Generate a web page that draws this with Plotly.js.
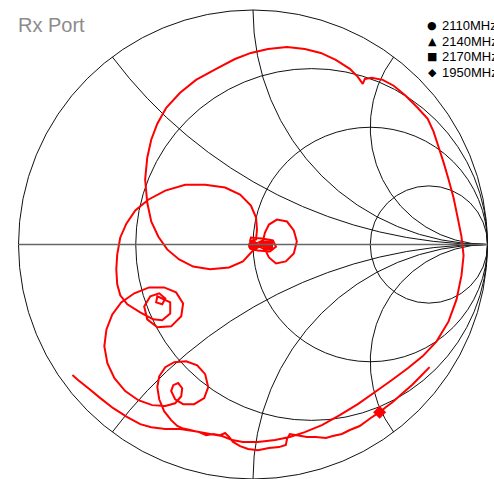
<!DOCTYPE html>
<html>
<head>
<meta charset="utf-8">
<script src="https://cdn.plot.ly/plotly-3.0.1.min.js"></script>
<style>html,body{margin:0;padding:0;background:#fff}#chart{width:494px;height:479px}</style>
</head>
<body>
<div id="chart"></div>
<script>
const gammaRe = [0.753,0.715,0.677,0.634,0.596,0.566,0.540,0.502,0.455,0.413,0.379,0.340,0.311,0.268,0.230,0.187,0.157,0.145,0.140,0.111,0.068,0.021,-0.021,-0.055,-0.085,-0.102,-0.119,-0.140,-0.170,-0.200,-0.230,-0.268,-0.302,-0.323,
-0.349,-0.379,-0.400,-0.408,-0.400,-0.374,-0.336,-0.285,-0.238,-0.204,-0.191,-0.208,-0.251,-0.298,-0.332,-0.349,-0.340,-0.319,-0.302,-0.306,-0.332,-0.374,-0.430,-0.489,-0.545,-0.591,-0.621,-0.634,-0.625,-0.600,-0.562,-0.506,-0.443,-0.379,-0.328,-0.298,-0.306,-0.349,-0.408,-0.451,-0.464,-0.438,-0.400,-0.374,-0.387,-0.413,-0.408,-0.353,-0.353,-0.387,-0.426,-0.481,-0.536,-0.566,-0.579,-0.583,-0.579,
-0.566,-0.540,-0.502,-0.447,-0.374,-0.289,-0.204,-0.119,-0.055,-0.009,0.013,0.017,0.013,
-0.013,-0.009,0.038,0.085,0.098,0.072,0.021,-0.013,0.013,0.043,
0.051,0.068,0.102,0.145,0.174,0.187,0.174,0.140,0.098,0.068,0.051,0.026,
-0.004,-0.043,-0.102,-0.183,-0.255,-0.315,-0.366,-0.404,-0.434,-0.451,-0.460,-0.451,-0.434,-0.408,-0.370,-0.311,-0.243,-0.157,-0.077,-0.009,0.064,0.145,0.221,0.289,0.353,0.413,0.447,0.468,0.477,0.506,0.553,0.600,0.651,0.702,0.745,0.770,0.791,0.813,0.834,0.855,0.872,0.889,0.898,0.889,0.868,0.834,0.783,0.723,0.660,0.591,0.519,0.447,0.370,0.294,0.221,0.157,0.094,0.021,-0.043,-0.089,-0.132,-0.183,-0.247,-0.311,-0.374,-0.434,-0.481,-0.536,-0.596,-0.651,-0.702,-0.745,-0.770];
const gammaIm = [-0.523,-0.562,-0.600,-0.638,-0.672,-0.694,-0.715,-0.740,-0.774,-0.791,-0.808,-0.817,-0.825,-0.821,-0.821,-0.813,-0.808,-0.830,-0.855,-0.864,-0.868,-0.877,-0.872,-0.860,-0.842,-0.821,-0.804,-0.813,-0.808,-0.813,-0.800,-0.791,-0.783,-0.774,
-0.749,-0.711,-0.660,-0.608,-0.562,-0.523,-0.502,-0.498,-0.515,-0.553,-0.608,-0.655,-0.681,-0.681,-0.660,-0.625,-0.600,-0.591,-0.613,-0.647,-0.677,-0.689,-0.685,-0.664,-0.625,-0.570,-0.506,-0.434,-0.362,-0.298,-0.247,-0.208,-0.183,-0.183,-0.204,-0.251,-0.306,-0.349,-0.353,-0.319,-0.264,-0.221,-0.208,-0.230,-0.255,-0.247,-0.221,-0.247,-0.294,-0.323,-0.319,-0.289,-0.255,-0.217,-0.170,-0.106,-0.043,
0.030,0.089,0.145,0.191,0.230,0.255,0.255,0.243,0.213,0.166,0.115,0.064,0.021,
0.013,0.030,0.026,0.017,-0.009,-0.030,-0.026,-0.017,0.004,0.017,
0.051,0.085,0.106,0.098,0.060,0.013,-0.038,-0.072,-0.081,-0.055,-0.021,-0.009,
-0.030,-0.072,-0.098,-0.106,-0.094,-0.064,-0.021,0.034,0.098,0.179,0.277,0.370,0.447,0.515,0.583,0.647,0.702,0.749,0.791,0.817,0.834,0.842,0.834,0.817,0.787,0.749,0.715,0.685,0.706,0.711,0.702,0.677,0.634,0.583,0.536,0.481,0.417,0.349,0.277,0.200,0.119,0.034,-0.047,-0.132,-0.234,-0.328,-0.413,-0.477,-0.528,-0.579,-0.630,-0.681,-0.728,-0.770,-0.800,-0.821,-0.834,-0.842,-0.842,-0.834,-0.817,-0.808,-0.796,-0.787,-0.787,-0.779,-0.766,-0.736,-0.698,-0.655,-0.613,-0.579,-0.557];

// Frequency markers
const markerLabels = ['2110MHz','2140MHz','2170MHz','1950MHz'];
const markerSymbols = ['circle','triangle-up','square','diamond'];
const markerGammaRe = [0.000,0.038,0.064,0.540];
const markerGammaIm = [-0.004,0.000,-0.004,-0.715];
const legendGlyphs = ['\u25CF','\u25B2','\u25A0','\u25C6'];

// Smith grid values
const resistanceGrid = [0.3333, 1, 3, 10000];
const reactanceGrid = [-2, -1, -0.5, 0.5, 1, 2];

function toZ(gr, gi) {
  const d = (1 - gr) * (1 - gr) + gi * gi;
  return [(1 - gr * gr - gi * gi) / d, (2 * gi) / d];
}
const zRe = [], zIm = [];
for (let i = 0; i < gammaRe.length; i++) { const z = toZ(gammaRe[i], gammaIm[i]); zRe.push(z[0]); zIm.push(z[1]); }
const mRe = [], mIm = [];
for (let i = 0; i < markerGammaRe.length; i++) { const z = toZ(markerGammaRe[i], markerGammaIm[i]); mRe.push(z[0]); mIm.push(z[1]); }

const traces = [{
  type: 'scattersmith', mode: 'lines', real: zRe, imag: zIm,
  line: {color: '#ff0000', width: 2}, showlegend: false, hoverinfo: 'skip'
}];
for (let i = 0; i < markerLabels.length; i++) {
  traces.push({
    type: 'scattersmith', mode: 'markers', real: [mRe[i]], imag: [mIm[i]], name: markerLabels[i],
    marker: {symbol: markerSymbols[i], color: '#ff0000', size: 10}, showlegend: false
  });
}

const W = 494, H = 479, L = 18, R = 6, T = 10, B = 0;
const pw = W - L - R, ph = H - T - B;
const rowsY = [25.5, 41, 56.5, 72];
const annotations = [];
for (let i = 0; i < markerLabels.length; i++) {
  const yy = 1 - (rowsY[i] - T) / ph;
  annotations.push({xref: 'paper', yref: 'paper', x: (432 - L) / pw, y: yy, xanchor: 'center', yanchor: 'middle',
    text: legendGlyphs[i], showarrow: false, font: {family: 'DejaVu Sans', size: 11, color: '#000'}});
  annotations.push({xref: 'paper', yref: 'paper', x: (440 - L) / pw, y: yy, xanchor: 'left', yanchor: 'middle',
    text: markerLabels[i], showarrow: false, font: {family: 'Arial, Liberation Sans, sans-serif', size: 13, color: '#000'}});
}

const layout = {
  width: W, height: H,
  margin: {l: L, r: R, t: T, b: B, pad: 0},
  paper_bgcolor: '#fff',
  showlegend: false,
  title: {text: 'Rx Port', x: 18 / W, xref: 'container', xanchor: 'left', y: 1 - 25 / H, yref: 'container', yanchor: 'middle',
    font: {family: 'Arial, Liberation Sans, sans-serif', size: 20, color: '#8c8c8c'}},
  smith: {
    domain: {x: [0, 1], y: [0, 1]},
    bgcolor: '#fff',
    realaxis: {tickvals: resistanceGrid, showticklabels: false, ticks: '', gridcolor: '#111', gridwidth: 1, linecolor: '#666', linewidth: 1.5, showline: true},
    imaginaryaxis: {tickvals: reactanceGrid, showticklabels: false, ticks: '', gridcolor: '#111', gridwidth: 1, linecolor: '#111', linewidth: 1, showline: true}
  },
  annotations: annotations
};
Plotly.newPlot('chart', traces, layout, {staticPlot: true});
</script>
</body>
</html>
